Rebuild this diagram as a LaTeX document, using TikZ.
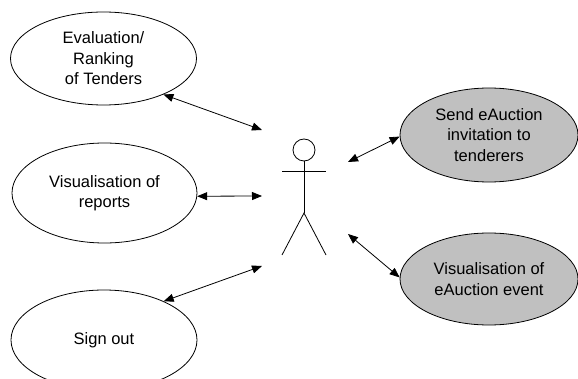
\documentclass[tikz,border=0pt]{standalone}
\usepackage{fontspec}
\setmainfont{Liberation Sans}
\usepackage{tikz}
\usetikzlibrary{arrows.meta, shapes.geometric}
\definecolor{ucgray}{HTML}{C0C0C0}

\begin{document}
\begin{tikzpicture}[x=1pt, y=-1pt, line width=0.8pt,
    usecase/.style={ellipse, draw, inner sep=0pt, align=center, font=\fontsize{16.5}{20.5}\selectfont},
    link/.style={{Triangle[length=10pt,width=8pt]}-{Triangle[length=10pt,width=8pt]}}]
    \useasboundingbox (0,0) rectangle (578,379);
    \node[usecase, minimum width=186pt, minimum height=93pt] (eval) at (103.5,58.5) {Evaluation/\\Ranking\\of Tenders};
    \node[usecase, minimum width=185pt, minimum height=100pt] (reports) at (104.5,193) {Visualisation of\\reports};
    \node[usecase, minimum width=186pt, minimum height=100pt] (signout) at (104,340) {Sign out};
    \node[usecase, fill=ucgray, minimum width=178pt, minimum height=94pt] (invite) at (489,135) {Send eAuction\\invitation to\\tenderers};
    \node[usecase, fill=ucgray, minimum width=178pt, minimum height=92pt] (event) at (489,279) {Visualisation of\\eAuction event};
    \node[circle, draw, minimum size=22pt, inner sep=0pt] (head) at (304,150) {};
    \draw (282,171) -- (326,171);
    \draw (head.south) -- (304,213) coordinate (hip);
    \draw (282,255) -- (hip) -- (326,255);
    \coordinate (a1) at (262,130);
    \coordinate (a2) at (262,196);
    \coordinate (a3) at (262,266);
    \coordinate (b1) at (348,162);
    \coordinate (b2) at (348,234);
    \draw[link] (eval.-31) -- (a1);
    \draw[link] (reports.-2) -- (a2);
    \draw[link] (signout.33) -- (a3);
    \draw[link] (b1) -- (invite.181);
    \draw[link] (b2) -- (event.179);
\end{tikzpicture}
\end{document}
